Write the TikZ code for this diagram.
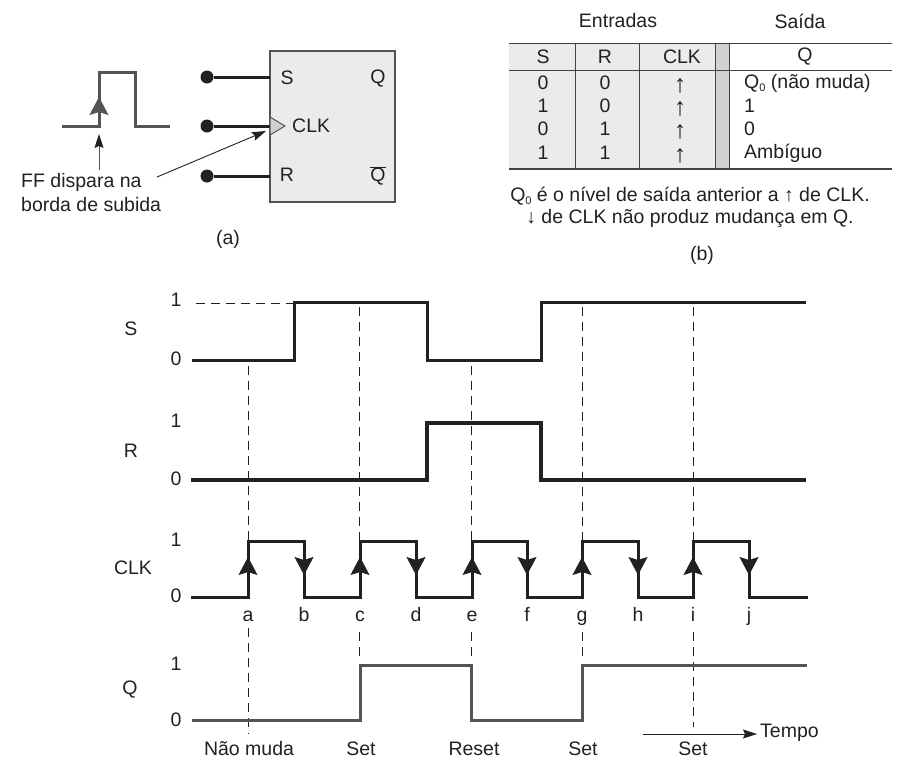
\documentclass[tikz,border=0pt]{standalone}
\usepackage{fontspec}
\setmainfont{Liberation Sans}
\usetikzlibrary{arrows.meta}
\definecolor{ink}{gray}{0.13}
\definecolor{wave}{gray}{0.33}
\definecolor{panel}{gray}{0.92}
\definecolor{strip}{gray}{0.82}
\newcommand{\Qzero}{Q\raisebox{-3.5pt}{\fontsize{11}{11}\selectfont 0}}

\tikzstyle{txt} = [
        text=ink,
        inner sep=0pt,
        font=\fontsize{19.5}{24}\selectfont
    ]
\tikzstyle{sig} = [
        draw=ink,
        line width=3pt,
        miter limit=10
    ]
\tikzstyle{guide} = [
        draw=ink,
        line width=0.8pt,
        dash pattern=on 9pt off 6pt
    ]
\tikzstyle{rule} = [
        draw=ink!85,
        line width=1pt
    ]
\tikzstyle{thin} = [
        draw=ink,
        line width=0.9pt,
        -{Stealth[length=14pt,width=9pt,inset=2pt]}
    ]
\tikzstyle{edge} = [
        draw=ink,
        line width=1pt,
        -{Stealth[length=18pt,width=19pt,inset=3pt]}
    ]
\tikzstyle{pin} = [
        circle,
        fill=ink,
        inner sep=0pt,
        minimum size=13pt
    ]

\begin{document}
\begin{tikzpicture}[x=1pt, y=-1pt]
        \useasboundingbox (0,0) rectangle (901,763);

        % flip-flop (a)
        \node(ffbox) [draw=wave, fill=panel, line width=1.2pt, minimum width=125pt,
            minimum height=151pt, inner sep=0pt] at (332.5,126.5) {};
        \node(pins) [pin] at (207,77) {};
        \node(pinc) [pin] at (207,126) {};
        \node(pinr) [pin] at (207,176) {};
        \coordinate(ins) at (270,77);
        \coordinate(inc) at (270,126);
        \coordinate(inr) at (270,176);
        \draw[sig] (pins) -- (ins);
        \draw[sig] (pinc) -- (inc);
        \draw[sig] (pinr) -- (inr);
        \draw[draw=wave, fill=strip, line width=1pt] (270,117) -- (285,126) -- (270,135) -- cycle;
        \node(ffs) [txt] at (287,78) {S};
        \node(ffq) [txt] at (378,79) {Q};
        \node(ffc) [txt, anchor=west] at (292,126) {CLK};
        \node(ffr) [txt] at (287,175) {R};
        \node(ffn) [txt] at (378,176) {$\overline{\mbox{Q}}$};

        % pulse
        \coordinate(pa) at (62,126);
        \coordinate(pb) at (99,126);
        \coordinate(pc) at (99,72);
        \coordinate(pd) at (135,72);
        \coordinate(pe) at (135,126);
        \coordinate(pf) at (170,126);
        \coordinate(pg) at (99,116);
        \coordinate(ph) at (99,97);
        \draw[sig, draw=wave] (pa) -- (pb) -- (pc) -- (pd) -- (pe) -- (pf);
        \draw[edge, draw=wave] (pg) -- (ph);
        \node(note) [txt, anchor=north west, align=left] at (21,173) {FF dispara na\\borda de subida};
        \coordinate(na) at (99,170);
        \coordinate(nb) at (99,134);
        \coordinate(nc) at (157,177);
        \coordinate(nd) at (266,131);
        \draw[thin, draw=wave, -{Stealth[length=14pt,width=9pt,inset=2pt,ink]}] (na) -- (nb);
        \draw[thin] (nc) -- (nd);
        \node(capa) [txt] at (228,239) {(a)};

        % table (b)
        \node(hin) [txt] at (618,21) {Entradas};
        \node(hout) [txt] at (800,21) {Saída};
        \fill[panel] (509,43) rectangle (715,169);
        \fill[strip] (715,43) rectangle (729,169);
        \draw[rule] (509,43) -- (892,43);
        \draw[rule] (509,70) -- (892,70);
        \draw[rule, line width=1.3pt] (509,169) -- (892,169);
        \foreach \cx in {575,639,715,729}
            \draw[rule] (\cx,43) -- (\cx,169);
        \node(hs) [txt] at (543,57) {S};
        \node(hr) [txt] at (605,57) {R};
        \node(hc) [txt] at (682,57) {CLK};
        \node(hq) [txt] at (805,57) {Q};
        \foreach \ry/\vs/\vr/\vq in {83/0/0/\Qzero\ (não muda),106/1/0/1,129/0/1/0,153/1/1/Ambíguo} {
            \node(s\ry) [txt] at (543,\ry) {\vs};
            \node(r\ry) [txt] at (605,\ry) {\vr};
            \node(c\ry) [txt, font=\fontsize{25}{25}\selectfont] at (680,\ry+3) {↑};
            \node(q\ry) [txt, anchor=west] at (744,\ry) {\vq};
        }
        \node(notea) [txt] at (690,196) {\Qzero\ é o nível de saída anterior a ↑ de CLK.};
        \node(noteb) [txt] at (690,218) {↓ de CLK não produz mudança em Q.};
        \node(capb) [txt] at (702,255) {(b)};

        % guides
        \coordinate(ga1) at (248,366);
        \coordinate(ga2) at (248,541);
        \coordinate(ga3) at (248,628);
        \coordinate(ga4) at (248,734);
        \coordinate(gc1) at (359,307);
        \coordinate(gc2) at (359,541);
        \coordinate(gc3) at (359,632);
        \coordinate(gc4) at (359,660);
        \coordinate(ge1) at (471,366);
        \coordinate(ge2) at (471,541);
        \coordinate(ge3) at (471,632);
        \coordinate(ge4) at (471,660);
        \coordinate(gg1) at (582,307);
        \coordinate(gg2) at (582,541);
        \coordinate(gg3) at (582,632);
        \coordinate(gg4) at (582,660);
        \coordinate(gi1) at (693,307);
        \coordinate(gi2) at (693,541);
        \coordinate(gi3) at (693,632);
        \coordinate(gi4) at (693,727);
        \foreach \gn in {a,c,e,g,i} {
            \draw[guide] (g\gn1) -- (g\gn2);
            \draw[guide] (g\gn3) -- (g\gn4);
        }
        \coordinate(da) at (196,303);
        \coordinate(db) at (293,303);
        \draw[guide] (da) -- (db);

        % S
        \node(ls) [txt] at (131,329) {S};
        \node(s1) [txt] at (176,300) {1};
        \node(s0) [txt] at (176,359) {0};
        \draw[sig] (192,360) -- (294,360) -- (294,302) -- (427,302) -- (427,360)
            -- (541,360) -- (541,302) -- (806,302);

        % R
        \node(lr) [txt] at (131,451) {R};
        \node(r1) [txt] at (176,421) {1};
        \node(r0) [txt] at (176,479) {0};
        \draw[sig, line width=3.6pt] (191,480) -- (427,480) -- (427,423) -- (541,423)
            -- (541,480) -- (806,480);

        % CLK
        \node(lc) [txt] at (133,568) {CLK};
        \node(c1) [txt] at (176,540) {1};
        \node(c0) [txt] at (176,596) {0};
        \draw[sig] (191,597) -- (248,597) -- (248,541) -- (304,541) -- (304,597)
            -- (360,597) -- (360,541) -- (416,541) -- (416,597)
            -- (472,597) -- (472,541) -- (527,541) -- (527,597)
            -- (582,597) -- (582,541) -- (638,541) -- (638,597)
            -- (693,597) -- (693,541) -- (749,541) -- (749,597) -- (808,597);
        \foreach \ex in {248,360,472,582,693}
            \draw[edge] (\ex,577) -- (\ex,557);
        \foreach \ex in {304,416,527,638,749}
            \draw[edge] (\ex,555) -- (\ex,575);
        \foreach \ex/\en in {248/a,304/b,360/c,416/d,472/e,527/f,582/g,638/h,693/i,749/j}
            \node(t\en) [txt, anchor=base] at (\ex,621) {\en};

        % Q
        \node(lq) [txt] at (130,690) {Q};
        \node(q1) [txt] at (176,664) {1};
        \node(q0) [txt] at (176,720) {0};
        \draw[sig, draw=wave] (192,720) -- (360,720) -- (360,665) -- (471,665) -- (471,720)
            -- (582,720) -- (582,665) -- (807,665);

        % states
        \node(st1) [txt] at (249,749) {Não muda};
        \node(st2) [txt] at (361,749) {Set};
        \node(st3) [txt] at (474,749) {Reset};
        \node(st4) [txt] at (583,749) {Set};
        \node(st5) [txt] at (693,749) {Set};
        \node(tempo) [txt, anchor=west] at (760,733) {Tempo};
        \coordinate(tstart) at (643,734);
        \coordinate(tend) at (757,734);
        \draw[thin] (tstart) -- (tend);
    \end{tikzpicture}
\end{document}
